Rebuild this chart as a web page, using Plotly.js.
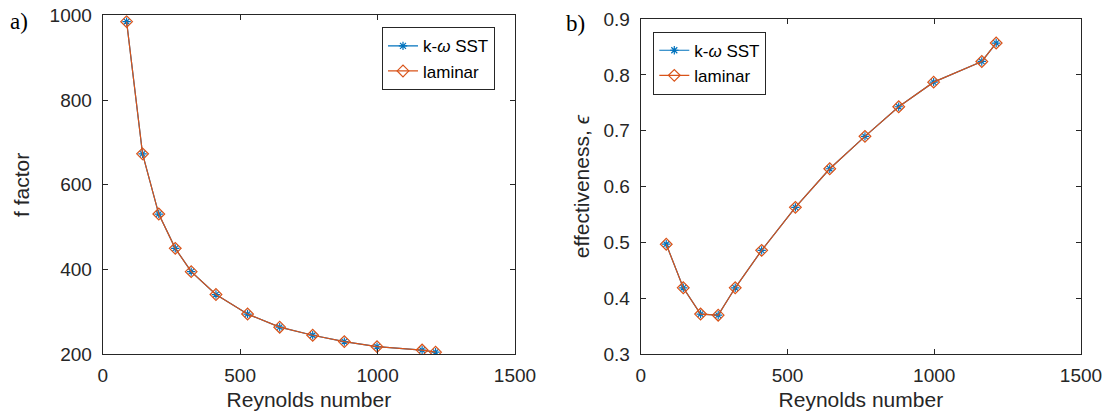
<!DOCTYPE html>
<html>
<head>
<meta charset="utf-8">
<script src="https://cdn.plot.ly/plotly-3.0.1.min.js"></script>
<style>
  html, body { margin: 0; padding: 0; background: #fff; }
  #chart { width: 1104px; height: 411px; }
</style>
</head>
<body>
<div id="chart"></div>
<script>
// Reynolds numbers (shared by both panels)
const reynolds = [87, 145, 204, 264, 322, 412, 527, 644, 764, 879, 998, 1162, 1211];

// a) friction factor
const fKwSST   = [985, 673, 531, 450, 395, 341, 295, 264, 245, 230, 218, 210, 205];
const fLaminar = [985, 673, 531, 450, 395, 341, 295, 264, 245, 230, 218, 210, 205];

// b) effectiveness
const effKwSST   = [0.497, 0.419, 0.372, 0.370, 0.419, 0.486, 0.563, 0.632, 0.690, 0.743, 0.787, 0.824, 0.857];
const effLaminar = [0.497, 0.419, 0.372, 0.370, 0.419, 0.486, 0.563, 0.632, 0.690, 0.743, 0.787, 0.824, 0.857];

const seriesNames = ['k-<i>ω</i> SST', 'laminar'];
const xTicks = [0, 500, 1000, 1500];
const fTicks = [200, 400, 600, 800, 1000];
const effTicks = [0.3, 0.4, 0.5, 0.6, 0.7, 0.8, 0.9];

const BLUE = '#0072BD';
const ORANGE = '#D95319';
const AXC = '#262626';
const FONT = '"Liberation Sans", Arial, Helvetica, sans-serif';

const W = 1104, H = 411;
const px = v => v / W;
const py = v => (H - v) / H;

function kwTrace(x, y, xa, ya, leg, show) {
  return {
    x: x, y: y, xaxis: xa, yaxis: ya, legend: leg, showlegend: show,
    name: seriesNames[0], type: 'scatter', mode: 'lines+markers',
    line: {color: BLUE, width: 1.2},
    marker: {symbol: 'asterisk-open', size: 7, color: BLUE, line: {color: BLUE, width: 1.2}}
  };
}
function lamTrace(x, y, xa, ya, leg, show) {
  return {
    x: x, y: y, xaxis: xa, yaxis: ya, legend: leg, showlegend: show,
    name: seriesNames[1], type: 'scatter', mode: 'lines+markers',
    line: {color: ORANGE, width: 1.2},
    marker: {symbol: 'diamond-open', size: 9, color: ORANGE, line: {color: ORANGE, width: 1.2}}
  };
}

const data = [
  kwTrace(reynolds, fKwSST, 'x', 'y', 'legend', true),
  lamTrace(reynolds, fLaminar, 'x', 'y', 'legend', true),
  kwTrace(reynolds, effKwSST, 'x2', 'y2', 'legend2', true),
  lamTrace(reynolds, effLaminar, 'x2', 'y2', 'legend2', true)
];

function xAxis(domain, anchor) {
  return {
    domain: domain, anchor: anchor, range: [0, 1500], tickvals: xTicks,
    ticktext: xTicks.map(String),
    showgrid: false, zeroline: false, showline: true, mirror: 'ticks',
    linecolor: AXC, linewidth: 1, ticks: 'inside', ticklen: 5, tickcolor: AXC, tickwidth: 1,
    tickfont: {family: FONT, size: 19, color: AXC}, ticklabelstandoff: 4,
    title: {text: 'Reynolds number', font: {family: FONT, size: 21, color: AXC}, standoff: 11},
    fixedrange: true
  };
}
function yAxis(domain, anchor, range, ticks, title, standoff) {
  return {
    domain: domain, anchor: anchor, range: range, tickvals: ticks,
    ticktext: ticks.map(v => String(v)),
    showgrid: false, zeroline: false, showline: true, mirror: 'ticks',
    linecolor: AXC, linewidth: 1, ticks: 'inside', ticklen: 5, tickcolor: AXC, tickwidth: 1,
    tickfont: {family: FONT, size: 19, color: AXC}, ticklabelstandoff: 6,
    title: {text: title, font: {family: FONT, size: 21, color: AXC}, standoff: standoff},
    fixedrange: true
  };
}

const legendCommon = {
  bgcolor: '#ffffff', bordercolor: AXC, borderwidth: 1,
  font: {family: FONT, size: 17, color: '#000'},
  tracegroupgap: 0, itemwidth: 30, yanchor: 'top'
};

const layout = {
  width: W, height: H,
  margin: {l: 0, r: 0, t: 0, b: 0},
  paper_bgcolor: '#ffffff', plot_bgcolor: '#ffffff',
  font: {family: FONT, color: AXC},
  xaxis: xAxis([px(102.7), px(515)], 'y'),
  yaxis: yAxis([py(354.3), py(15.3)], 'x', [200, 1000], fTicks, 'f factor', 14),
  xaxis2: xAxis([px(640.7), px(1081)], 'y2'),
  yaxis2: yAxis([py(354.3), py(19)], 'x2', [0.3, 0.9], effTicks, 'effectiveness, <i>ϵ</i>', 8),
  legend: Object.assign({}, legendCommon, {x: px(495), xanchor: 'right', y: py(27.3)}),
  legend2: Object.assign({}, legendCommon, {x: px(653.3), xanchor: 'left', y: py(31.7)}),
  annotations: [
    {text: 'a)', xref: 'paper', yref: 'paper', x: px(8), y: py(21), xanchor: 'left', yanchor: 'middle',
     showarrow: false, font: {family: '"Liberation Serif", "Times New Roman", serif', size: 23, color: '#000'}},
    {text: 'b)', xref: 'paper', yref: 'paper', x: px(564), y: py(23), xanchor: 'left', yanchor: 'middle',
     showarrow: false, font: {family: '"Liberation Serif", "Times New Roman", serif', size: 23, color: '#000'}}
  ],
  showlegend: true
};

Plotly.newPlot('chart', data, layout, {staticPlot: true, displayModeBar: false});
</script>
</body>
</html>
